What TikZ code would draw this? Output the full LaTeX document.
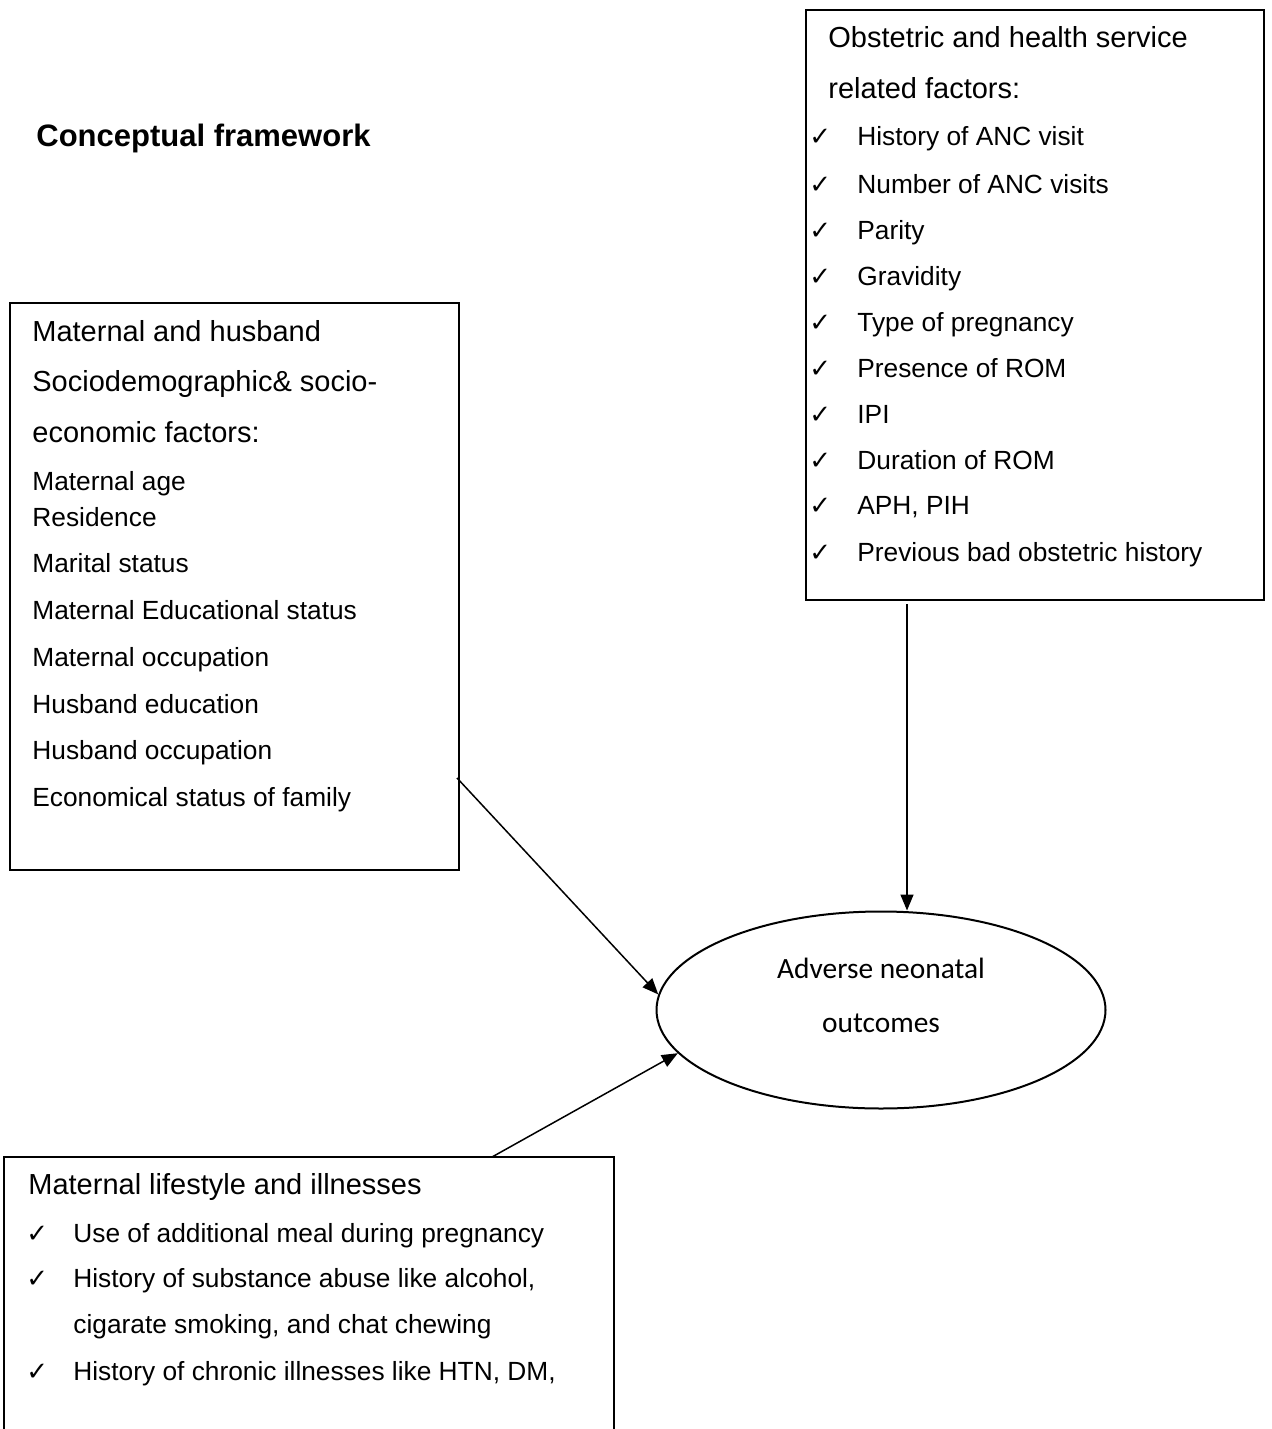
\documentclass[tikz,border=0pt]{standalone}
\usepackage{fontspec}
\setmainfont{Liberation Sans}
\newfontfamily\calib{Carlito}
\newfontfamily\symf{DejaVu Sans}
\usetikzlibrary{shapes.geometric,arrows.meta}
\tikzset{
  boxst/.style={draw, line width=1pt, rectangle, inner sep=0pt},
  hd/.style={anchor=base west, inner sep=0pt, font=\fontsize{14.5}{17}\selectfont},
  it/.style={anchor=base west, inner sep=0pt, font=\fontsize{13.15}{16}\selectfont},
  ck/.style={anchor=base west, inner sep=0pt, font=\symf\fontsize{13}{15}\selectfont},
  arr/.style={line width=0.75pt, -{Triangle[length=8pt,width=6.5pt]}},
  ellst/.style={draw, line width=1pt, ellipse, inner sep=0pt, minimum width=224.5pt, minimum height=98.5pt},
  et/.style={anchor=base, inner sep=0pt, font=\calib\fontsize{14.7}{17}\selectfont}
}
\begin{document}
\begin{tikzpicture}[x=0.5pt,y=-0.5pt]
\useasboundingbox (0,0) rectangle (1272,1429);
\clip (0,0) rectangle (1272,1429);
% title
\node[anchor=base west, inner sep=0pt, font=\bfseries\fontsize{15.5}{18}\selectfont] (title) at (36,147) {Conceptual framework};
% top right box
\node[boxst, minimum width=229pt, minimum height=295pt] (obs) at (1035,305) {};
\node[hd] (o1) at (828,48) {Obstetric and health service};
\node[hd] (o2) at (828,98) {related factors:};
\foreach \t/\y [count=\i] in {History of ANC visit/146, Number of ANC visits/193, Parity/239, Gravidity/285, Type of pregnancy/331, Presence of ROM/377, IPI/423, Duration of ROM/469, {APH, PIH}/514, Previous bad obstetric history/561}{
  \node[ck] (oc\i) at (809,\y) {✓};
  \node[it] (oi\i) at (857,\y) {\t};
}
% left box
\node[boxst, minimum width=224.5pt, minimum height=283.5pt] (soc) at (234.5,586.5) {};
\node[hd] (s1) at (32,341) {Maternal and husband};
\node[hd] (s2) at (32,391) {Sociodemographic\& socio-};
\node[hd] (s3) at (32,442) {economic factors:};
\foreach \t/\y [count=\i] in {Maternal age/490, Residence/526, Marital status/572, Maternal Educational status/619, Maternal occupation/666, Husband education/713, Husband occupation/759, Economical status of family/806}{
  \node[it] (si\i) at (32,\y) {\t};
}
% bottom box
\node[boxst, minimum width=305pt, minimum height=151.5pt] (life) at (309,1308.5) {};
\node[hd] (l1) at (28,1194) {Maternal lifestyle and illnesses};
\node[ck] (lc1) at (26,1242) {✓};
\node[it] (li1) at (73,1242) {Use of additional meal during pregnancy};
\node[ck] (lc2) at (26,1287) {✓};
\node[it] (li2) at (73,1287) {History of substance abuse like alcohol,};
\node[it] (li3) at (73,1333) {cigarate smoking, and chat chewing};
\node[ck] (lc3) at (26,1380) {✓};
\node[it] (li4) at (73,1380) {History of chronic illnesses like HTN, DM,};
% ellipse
\node[ellst] (ell) at (881,1010) {};
\node[et] (e1) at (881,978) {Adverse neonatal};
\node[et] (e2) at (881,1032) {outcomes};
% connectors
\coordinate (vs) at (907,604);
\coordinate (a1s) at (457,778);
\coordinate (a2s) at (492,1157);
\draw[arr] (vs) -- (vs |- ell.north);
\draw[arr] (a1s) -- (ell.176);
\draw[arr] (a2s) -- (ell.192);
\end{tikzpicture}
\end{document}
